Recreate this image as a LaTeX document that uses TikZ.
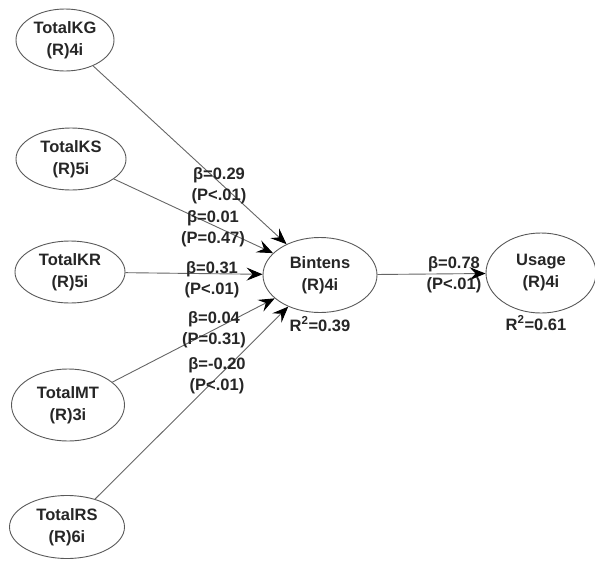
\documentclass[tikz,border=0pt]{standalone}
\usepackage{fontspec}
\setmainfont{Liberation Sans}
\usetikzlibrary{arrows.meta,shapes.geometric}
\begin{document}
\begin{tikzpicture}[x=1pt,y=-1pt,
  lv/.style={ellipse,draw=black!65,line width=0.9pt,align=center,inner sep=0pt,
    text=black!85,font=\bfseries\fontsize{16.5}{22}\selectfont},
  lab/.style={align=center,inner sep=0pt,text=black!85,font=\bfseries\fontsize{16.5}{21}\selectfont},
  conn/.style={draw=black!60,line width=0.9pt,-{Stealth[length=16pt,width=13pt,inset=6pt,fill=black,color=black]}}]
\useasboundingbox (0,0) rectangle (595,563);
\node[lv,minimum width=98pt,minimum height=62pt] (kg) at (65,40) {TotalKG\\(R)4i};
\node[lv,minimum width=110pt,minimum height=62pt] (ks) at (71,159) {TotalKS\\(R)5i};
\node[lv,minimum width=110pt,minimum height=62pt] (kr) at (70,272) {TotalKR\\(R)5i};
\node[lv,minimum width=113pt,minimum height=72pt] (mt) at (68,405) {TotalMT\\(R)3i};
\node[lv,minimum width=115pt,minimum height=63pt] (rs) at (67,527) {TotalRS\\(R)6i};
\node[lv,minimum width=114pt,minimum height=75pt] (bi) at (320,275) {Bintens\\(R)4i};
\node[lv,minimum width=110pt,minimum height=80pt] (us) at (541,273) {Usage\\(R)4i};

\draw[conn] (kg) -- (bi);
\draw[conn] (ks) -- (bi);
\draw[conn] (kr) -- (bi);
\draw[conn] (mt) -- (bi);
\draw[conn] (rs) -- (bi);
\draw[conn] (bi) -- (us);

\node[lab] (l1) at (219,186) {β=0.29\\(P<.01)};
\node[lab] (l2) at (213,229) {β=0.01\\(P=0.47)};
\node[lab] (l3) at (212,280) {β=0.31\\(P<.01)};
\node[lab] (l4) at (214,330) {β=0.04\\(P=0.31)};
\node[lab] (l5) at (217,376) {β=-0.20\\(P<.01)};
\node[lab] (l6) at (454,275) {β=0.78\\(P<.01)};
\node[lab] (r1) at (320,324) {R\textsuperscript{2}=0.39};
\node[lab] (r2) at (536,323) {R\textsuperscript{2}=0.61};
\end{tikzpicture}
\end{document}
